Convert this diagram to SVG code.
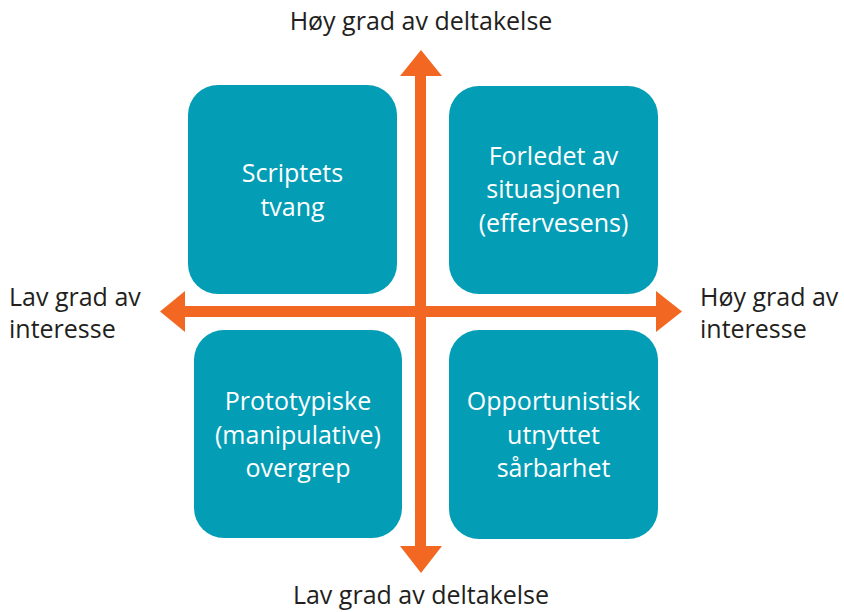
<svg xmlns="http://www.w3.org/2000/svg" width="844" height="612" viewBox="0 0 844 612">
<style>
.box{fill:#039db5}
.bt{fill:#ffffff;font-family:"Open Sans",sans-serif;font-size:25px;text-anchor:middle}
.lb{fill:#231f20;font-family:"Open Sans",sans-serif;font-size:25px}
.ax{fill:#f26822}
</style>
<rect width="844" height="612" fill="#ffffff"/>
<g id="box-scriptets">
<rect class="box" x="188" y="85" width="209" height="209" rx="30"/>
<text class="bt" x="292.5" y="182">Scriptets</text>
<text class="bt" x="292.5" y="216">tvang</text>
</g>
<g id="box-forledet">
<rect class="box" x="449" y="86" width="209" height="208" rx="30"/>
<text class="bt" x="553.5" y="165">Forledet av</text>
<text class="bt" x="553.5" y="198">situasjonen</text>
<text class="bt" x="553.5" y="232">(effervesens)</text>
</g>
<g id="box-prototypiske">
<rect class="box" x="194" y="330" width="208" height="208" rx="30"/>
<text class="bt" x="298" y="410">Prototypiske</text>
<text class="bt" x="298" y="444">(manipulative)</text>
<text class="bt" x="298" y="477">overgrep</text>
</g>
<g id="box-opportunistisk">
<rect class="box" x="449" y="330" width="209" height="209" rx="30"/>
<text class="bt" x="553.5" y="410">Opportunistisk</text>
<text class="bt" x="553.5" y="444">utnyttet</text>
<text class="bt" x="553.5" y="477">sårbarhet</text>
</g>
<g id="connectors">
<polygon class="ax" points="421,50 442,76 426,76 426,546 442,546 421,573 400,546 415,546 415,76 400,76"/>
<polygon class="ax" points="160,311.5 185,291 185,306 656,306 656,291 682,311.5 656,332 656,317 185,317 185,332"/>
</g>
<g id="labels">
<text class="lb" x="421" y="30" text-anchor="middle">Høy grad av deltakelse</text>
<text class="lb" x="421" y="604" text-anchor="middle">Lav grad av deltakelse</text>
<text class="lb" x="9" y="306">Lav grad av</text>
<text class="lb" x="9" y="338">interesse</text>
<text class="lb" x="700" y="306">Høy grad av</text>
<text class="lb" x="700" y="338">interesse</text>
</g>
</svg>
